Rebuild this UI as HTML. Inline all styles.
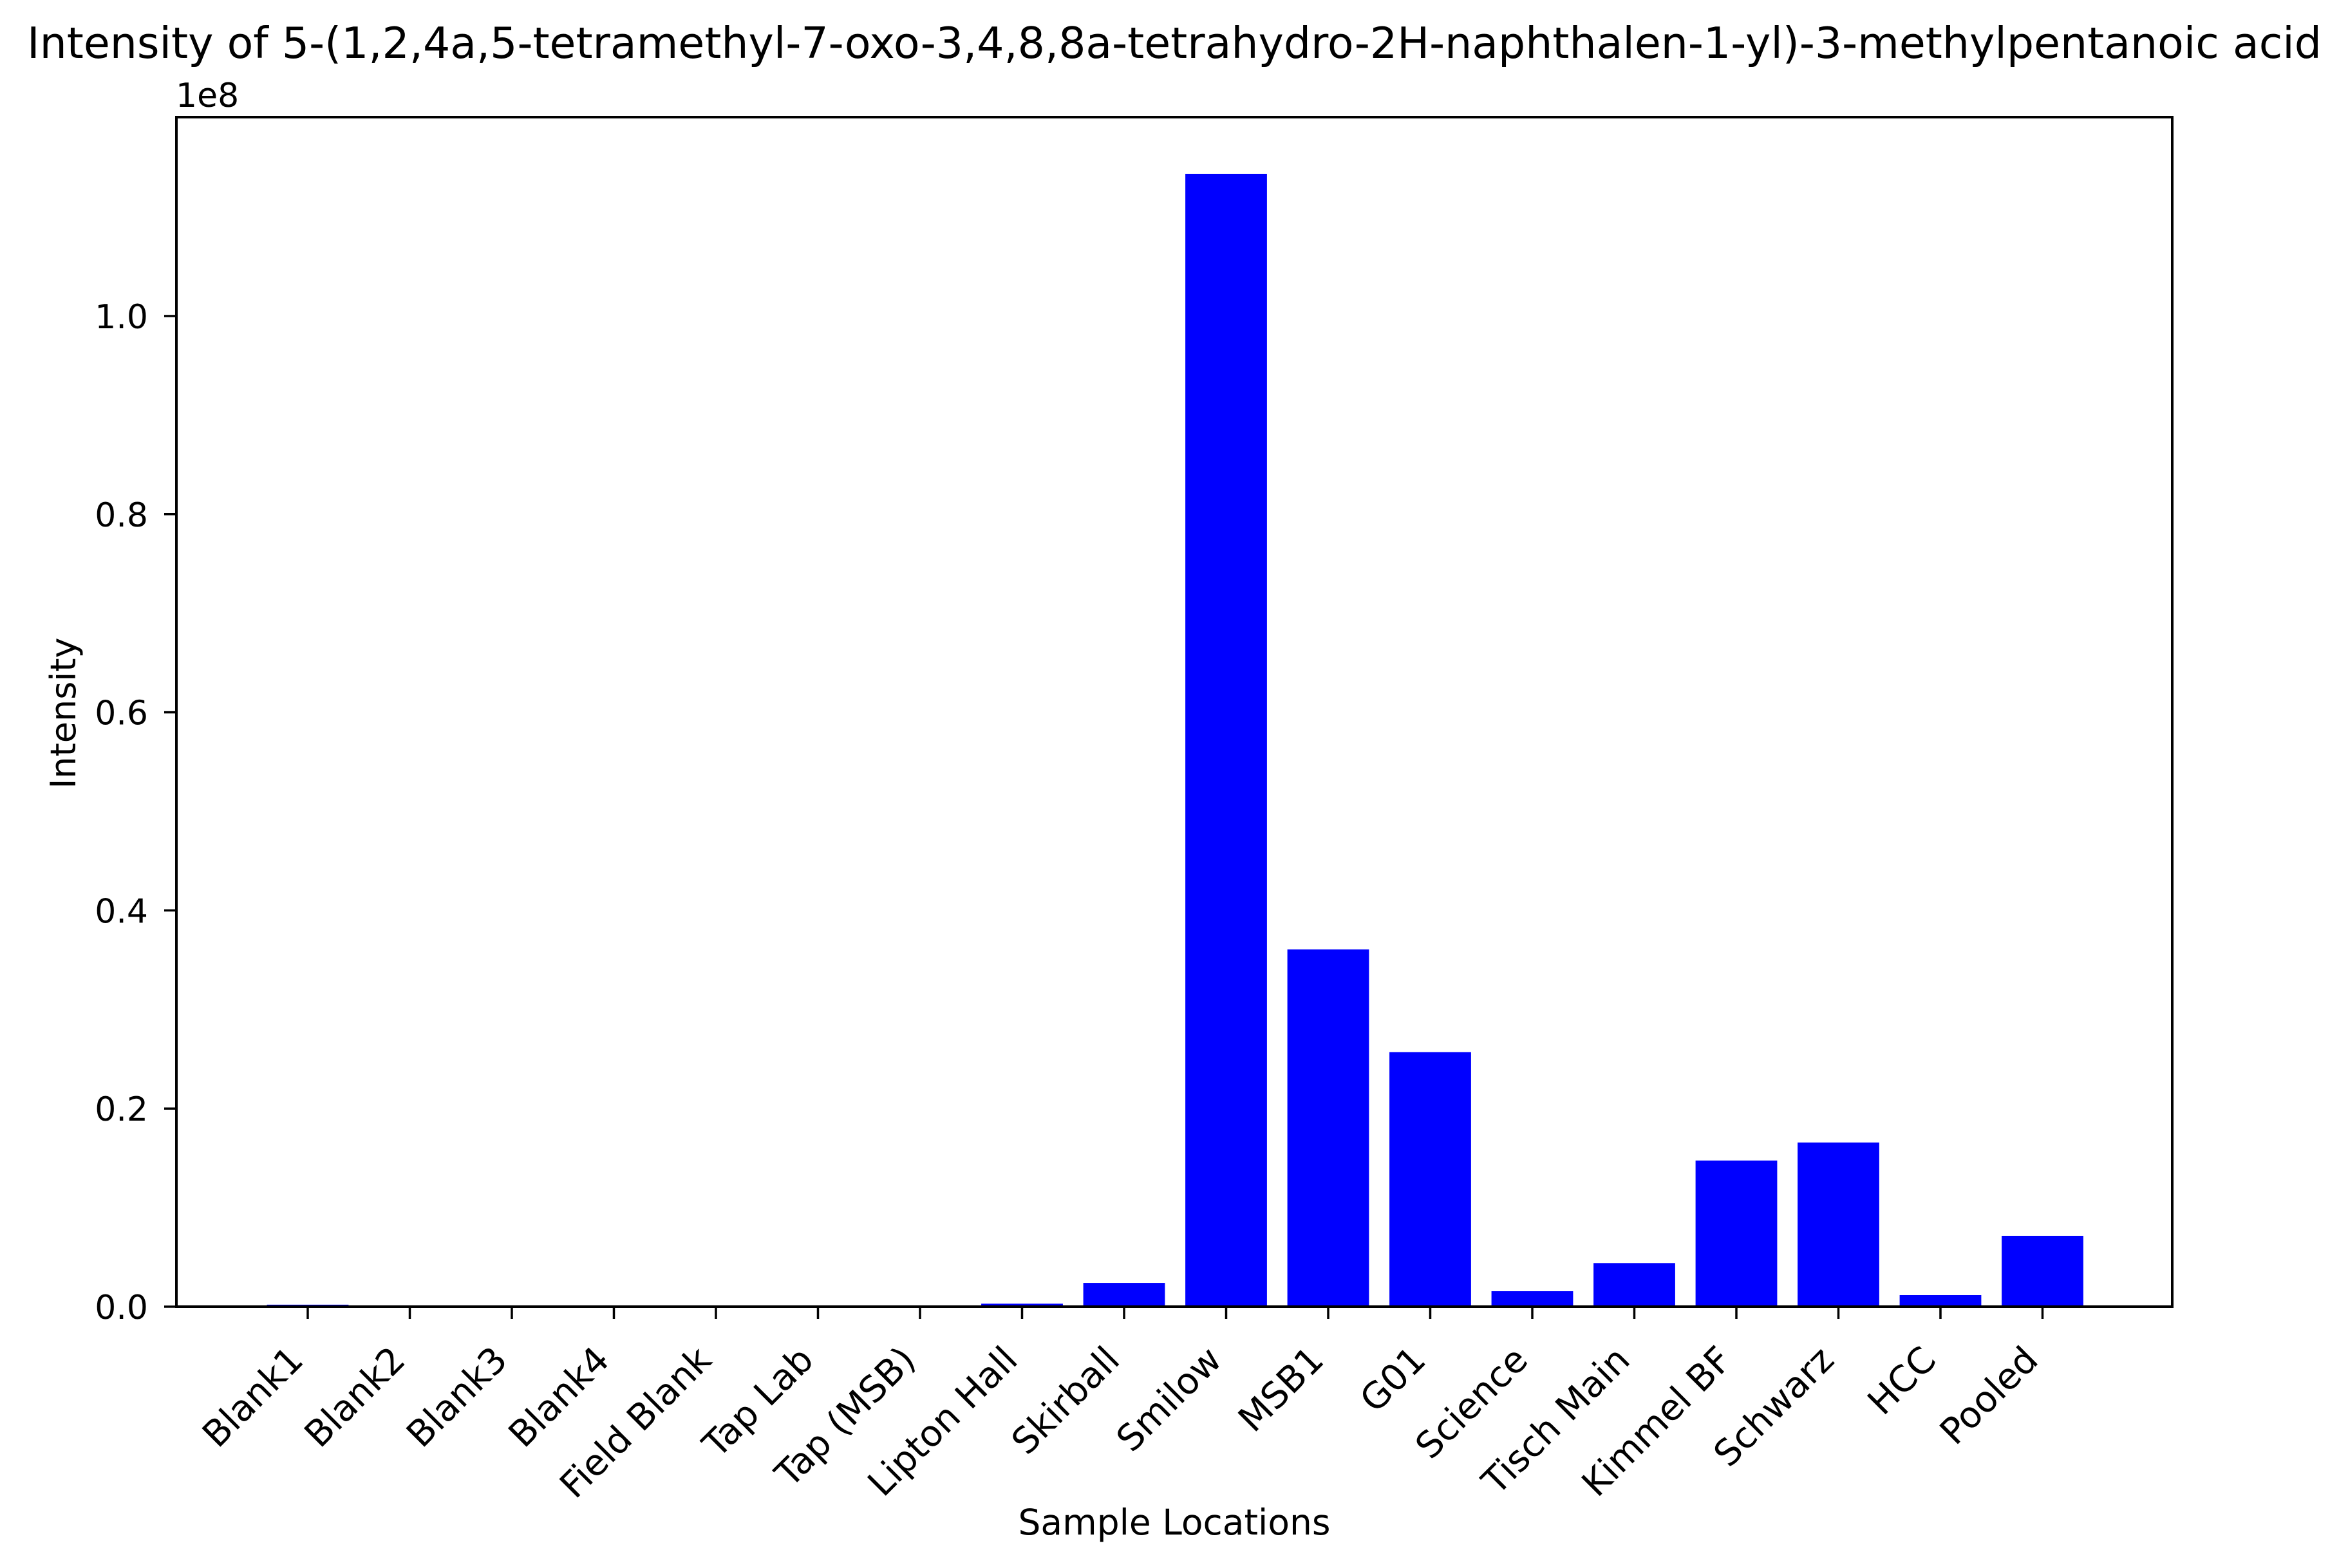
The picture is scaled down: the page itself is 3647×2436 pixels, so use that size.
<!DOCTYPE html>
<html><head><meta charset="utf-8"><style>html,body{margin:0;padding:0;background:#fff}svg{display:block}text{font-family:"DejaVu Sans","Liberation Sans",sans-serif;fill:#000}</style></head>
<body>
<svg id="chart" width="3647" height="2436" viewBox="0 0 3647 2436" xmlns="http://www.w3.org/2000/svg">
<rect width="3647" height="2436" fill="#fff"/>
<text x="1824" y="90" font-size="66.5" text-anchor="middle">Intensity of 5-(1,2,4a,5-tetramethyl-7-oxo-3,4,8,8a-tetrahydro-2H-naphthalen-1-yl)-3-methylpentanoic acid</text>
<text x="273" y="166" font-size="52">1e8</text>
<g id="bars"></g>
<g id="yticks"></g>
<g id="xticks"></g>
<rect x="274" y="182" width="3100" height="1848" fill="none" stroke="#000" stroke-width="4"/>
<text transform="translate(117,1108) rotate(-90)" font-size="54" text-anchor="middle">Intensity</text>
<text x="1824" y="2384" font-size="55" text-anchor="middle">Sample Locations</text>
</svg>
<script>
const categories = ["Blank1","Blank2","Blank3","Blank4","Field Blank","Tap Lab","Tap (MSB)","Lipton Hall","Skirball","Smilow","MSB1","G01","Science","Tisch Main","Kimmel BF","Schwarz","HCC","Pooled"];
const values = [0.002e8,0,0,0,0,0,0,0.003e8,0.024e8,1.1436e8,0.3606e8,0.257e8,0.0156e8,0.044e8,0.1475e8,0.1657e8,0.0117e8,0.0715e8];
const yTicks = [0,0.2e8,0.4e8,0.6e8,0.8e8,1.0e8];
const yTickLabels = ["0.0","0.2","0.4","0.6","0.8","1.0"];

const NS="http://www.w3.org/2000/svg";
const x0=478, step=158.5, barW=126.8;
function xPos(i){return x0+i*step;}
function yPos(v){return 2030-v/1e8*1539;}
function mk(tag,attrs,parent){const e=document.createElementNS(NS,tag);for(const k in attrs)e.setAttribute(k,attrs[k]);parent.appendChild(e);return e;}
const gb=document.getElementById('bars'), gy=document.getElementById('yticks'), gx=document.getElementById('xticks');
categories.forEach((c,i)=>{
  const top=yPos(values[i]);
  const r=mk('rect',{x:xPos(i)-barW/2,y:top,width:barW,height:Math.max(0,2030-top),fill:'#0000ff'},gb);
  
  
  const t=mk('line',{x1:xPos(i),x2:xPos(i),y1:2030,y2:2049,stroke:'#000','stroke-width':3.5},gx);
  
  
  const lx=xPos(i)-4, ly=2116;
  const l=mk('text',{transform:`translate(${lx},${ly}) rotate(-45)`,'font-size':56,'text-anchor':'end'},gx);
  l.textContent=c;
  
  
});
yTicks.forEach((v,i)=>{
  const y=yPos(v);
  const t=mk('line',{x1:255,x2:274,y1:y,y2:y,stroke:'#000','stroke-width':3.5},gy);
  
  
  const l=mk('text',{x:230,y:y+19,'font-size':52,'text-anchor':'end'},gy);
  l.textContent=yTickLabels[i];
  
  
});
</script>
</body></html>
